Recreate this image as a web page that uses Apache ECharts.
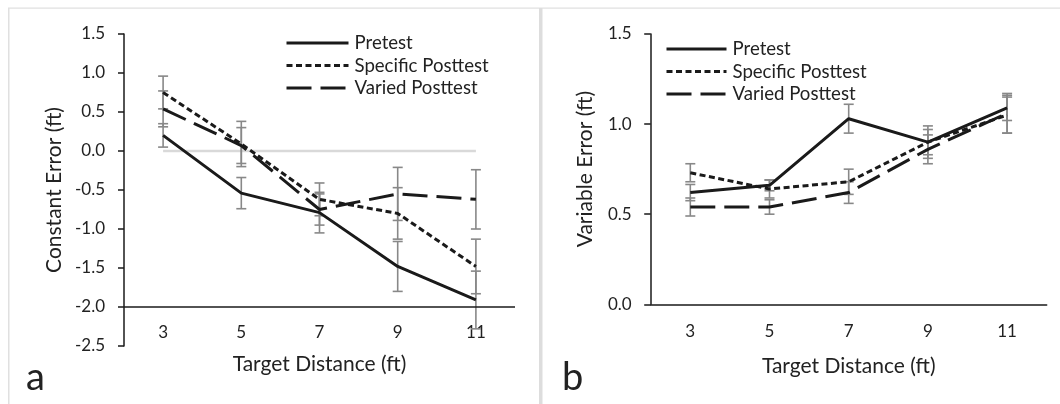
<!DOCTYPE html>
<html>
<head>
<meta charset="utf-8">
<script src="https://cdn.jsdelivr.net/npm/echarts@6/dist/echarts.min.js"></script>
<style>
html,body{margin:0;padding:0;background:#fff;}
#c{width:1060px;height:404px;}
</style>
</head>
<body>
<div id="c"></div>
<script>
const categories = ['3', '5', '7', '9', '11'];
const seriesNames = ['Pretest', 'Specific Posttest', 'Varied Posttest'];

// Panel a: Constant Error (ft)
const cePretest = [0.20, -0.54, -0.79, -1.48, -1.91];
const ceSpecific = [0.75, 0.09, -0.62, -0.80, -1.48];
const ceVaried = [0.54, 0.07, -0.75, -0.55, -0.62];
const ceErrPretest = [0.15, 0.20, 0.26, 0.32, 0.37];
const ceErrSpecific = [0.21, 0.29, 0.21, 0.33, 0.35];
const ceErrVaried = [0.23, 0.23, 0.20, 0.34, 0.38];
const ceZero = [0, 0, 0, 0, 0];

// Panel b: Variable Error (ft)
const vePretest = [0.62, 0.66, 1.03, 0.90, 1.09];
const veSpecific = [0.73, 0.64, 0.68, 0.90, 1.05];
const veVaried = [0.54, 0.54, 0.62, 0.86, 1.06];
const veErrPretest = [0.045, 0.03, 0.08, 0.07, 0.07];
const veErrSpecific = [0.05, 0.05, 0.07, 0.09, 0.10];
const veErrVaried = [0.05, 0.04, 0.06, 0.08, 0.11];

const FONT = 'Lato';
const TXT = '#222';

function errData(means, errs) {
  return means.map((m, i) => [i, m - errs[i], m + errs[i]]);
}
function errSeries(xi, means, errs) {
  return {
    type: 'custom', xAxisIndex: xi, yAxisIndex: xi, z: 1, silent: true,
    data: errData(means, errs),
    renderItem: function (params, api) {
      const lo = api.coord([api.value(0), api.value(1)]);
      const hi = api.coord([api.value(0), api.value(2)]);
      const w = 5;
      const st = { stroke: '#888', lineWidth: 1.6 };
      return { type: 'group', children: [
        { type: 'line', shape: { x1: lo[0], y1: lo[1], x2: hi[0], y2: hi[1] }, style: st },
        { type: 'line', shape: { x1: lo[0] - w, y1: lo[1], x2: lo[0] + w, y2: lo[1] }, style: st },
        { type: 'line', shape: { x1: hi[0] - w, y1: hi[1], x2: hi[0] + w, y2: hi[1] }, style: st }
      ]};
    }
  };
}
const styles = {
  'Pretest': { type: 'solid' },
  'Specific Posttest': { type: [6, 3.5] },
  'Varied Posttest': { type: [25, 9] }
};
function lineSeries(xi, name, data) {
  return {
    type: 'line', name: name, xAxisIndex: xi, yAxisIndex: xi, data: data,
    symbol: 'none', z: 3, silent: true,
    itemStyle: { color: '#1a1a1a' },
    lineStyle: { color: '#1a1a1a', width: 3, type: styles[name].type }
  };
}

const axisLabelStyle = { fontFamily: FONT, fontSize: 17, color: TXT };
const nameStyle = { fontFamily: FONT, fontSize: 21, color: TXT };
const legendBase = {
  data: seriesNames, orient: 'vertical', padding: 0, itemHeight: 14, itemGap: 2.5,
  selectedMode: false,
  itemStyle: { opacity: 0 },
  lineStyle: { width: 3 },
  textStyle: { fontFamily: FONT, fontSize: 18.6, color: TXT, lineHeight: 20, padding: [0, 0, 0, 1] }
};

const chart = echarts.init(document.getElementById('c'), null, { renderer: 'canvas' });
chart.setOption({
  animation: false,
  backgroundColor: '#fff',
  grid: [
    { left: 124, top: 34, width: 391, height: 312 },
    { left: 650.7, top: 34, width: 396, height: 270.3 }
  ],
  xAxis: [
    { gridIndex: 0, type: 'category', data: categories, boundaryGap: true,
      axisLine: { show: false }, axisTick: { show: false },
      axisLabel: Object.assign({ margin: -22 }, axisLabelStyle),
      name: 'Target Distance (ft)', nameLocation: 'middle', nameGap: 8, nameTextStyle: nameStyle },
    { gridIndex: 1, type: 'category', data: categories, boundaryGap: true,
      axisLine: { show: true, lineStyle: { color: '#1a1a1a', width: 1.5 } }, axisTick: { show: false },
      axisLabel: Object.assign({ margin: 19 }, axisLabelStyle),
      name: 'Target Distance (ft)', nameLocation: 'middle', nameGap: 51, nameTextStyle: nameStyle }
  ],
  yAxis: [
    { gridIndex: 0, type: 'value', min: -2.5, max: 1.5, interval: 0.5,
      axisLine: { show: true, lineStyle: { color: '#1a1a1a', width: 1.5 } },
      axisTick: { show: true, length: 6, lineStyle: { color: '#1a1a1a', width: 1.5 } },
      splitLine: { show: false },
      axisLabel: Object.assign({ margin: 19, formatter: v => v.toFixed(1) }, axisLabelStyle),
      name: 'Constant Error (ft)', nameLocation: 'middle', nameGap: 59.5, nameTextStyle: nameStyle },
    { gridIndex: 1, type: 'value', min: 0, max: 1.5, interval: 0.5,
      axisLine: { show: true, lineStyle: { color: '#1a1a1a', width: 1.5 } },
      axisTick: { show: true, length: 6.5, lineStyle: { color: '#1a1a1a', width: 1.5 } },
      splitLine: { show: false },
      axisLabel: Object.assign({ margin: 19, formatter: v => v.toFixed(1) }, axisLabelStyle),
      name: 'Variable Error (ft)', nameLocation: 'middle', nameGap: 54.5, nameTextStyle: nameStyle }
  ],
  legend: [
    Object.assign({ left: 285, top: 33, itemWidth: 62 }, legendBase),
    Object.assign({ left: 665, top: 39, itemWidth: 60 }, legendBase)
  ],
  series: [
    { type: 'line', name: 'zero', xAxisIndex: 0, yAxisIndex: 0, data: ceZero, symbol: 'none', z: 0, silent: true,
      lineStyle: { color: '#d9d9d9', width: 2.5 },
      markLine: { silent: true, symbol: 'none', label: { show: false },
        lineStyle: { color: '#1a1a1a', width: 1.5, type: 'solid' },
        data: [{ yAxis: -2 }] } },
    errSeries(0, cePretest, ceErrPretest),
    errSeries(0, ceSpecific, ceErrSpecific),
    errSeries(0, ceVaried, ceErrVaried),
    lineSeries(0, 'Pretest', cePretest),
    lineSeries(0, 'Specific Posttest', ceSpecific),
    lineSeries(0, 'Varied Posttest', ceVaried),
    errSeries(1, vePretest, veErrPretest),
    errSeries(1, veSpecific, veErrSpecific),
    errSeries(1, veVaried, veErrVaried),
    lineSeries(1, 'Pretest', vePretest),
    lineSeries(1, 'Specific Posttest', veSpecific),
    lineSeries(1, 'Varied Posttest', veVaried)
  ],
  graphic: [
    { type: 'rect', shape: { x: 8, y: 7.5, width: 1060, height: 1.2 }, style: { fill: '#e0e0e0' }, silent: true },
    { type: 'rect', shape: { x: 8, y: 8, width: 1.5, height: 400 }, style: { fill: '#e0e0e0' }, silent: true },
    { type: 'rect', shape: { x: 539, y: 8, width: 3.5, height: 400 }, style: { fill: '#dddddd' }, silent: true },
    { type: 'text', left: 26, top: 359, style: { text: 'a', font: '38px Lato', fill: '#222' } },
    { type: 'text', left: 562, top: 359, style: { text: 'b', font: '38px Lato', fill: '#222' } }
  ]
});
</script>
</body>
</html>
